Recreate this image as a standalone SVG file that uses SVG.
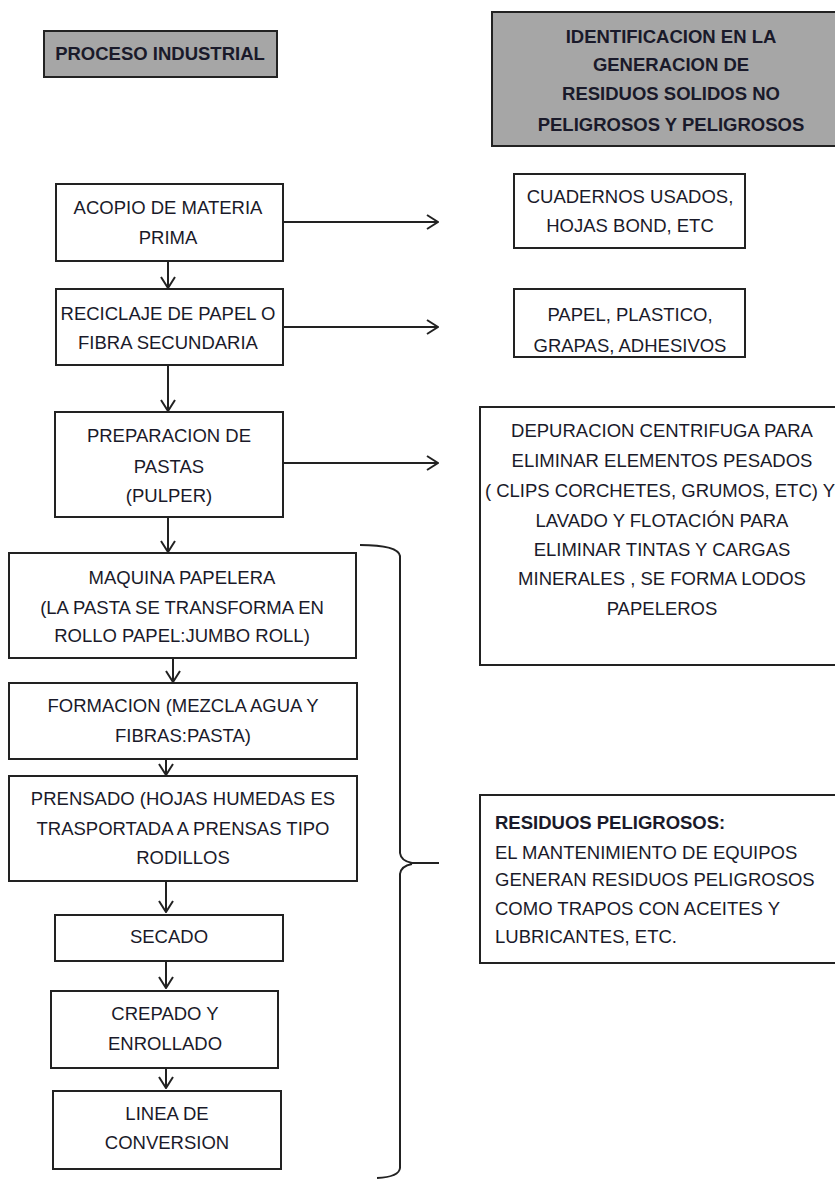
<svg xmlns="http://www.w3.org/2000/svg" width="835" height="1180" viewBox="0 0 835 1180">
<style>
  .box { fill: #ffffff; stroke: #222222; stroke-width: 2; }
  .hdr { fill: #a6a6a6; stroke: #222222; stroke-width: 2; }
  text { font-family: "Liberation Sans", Arial, sans-serif; font-size: 18.5px; fill: #1a1a2a; }
  .c { text-anchor: middle; }
  .b { font-weight: bold; font-size: 18.5px; }
  .conn { stroke: #222222; stroke-width: 2; fill: none; }
</style>
<defs>
  <marker id="arr" viewBox="0 0 14 16" refX="13" refY="8" markerWidth="14" markerHeight="16" markerUnits="userSpaceOnUse" orient="auto">
    <path d="M2,1 L13,8 L2,15" fill="none" stroke="#222222" stroke-width="2"/>
  </marker>
</defs>
<rect width="835" height="1180" fill="#ffffff"/>

<g id="hdr-proceso">
  <rect class="hdr" x="44" y="31" width="233" height="46"/>
  <text class="c b" x="160" y="60">PROCESO INDUSTRIAL</text>
</g>
<g id="hdr-identificacion">
  <rect class="hdr" x="492" y="12" width="360" height="134"/>
  <text class="c b" x="671" y="43">IDENTIFICACION EN LA</text>
  <text class="c b" x="671" y="71">GENERACION DE</text>
  <text class="c b" x="671" y="100">RESIDUOS SOLIDOS NO</text>
  <text class="c b" x="671" y="131">PELIGROSOS Y PELIGROSOS</text>
</g>

<g id="acopio">
  <rect class="box" x="56" y="184" width="227" height="77"/>
  <text class="c" x="168" y="214">ACOPIO DE MATERIA</text>
  <text class="c" x="168" y="244">PRIMA</text>
</g>
<g id="reciclaje">
  <rect class="box" x="56" y="289" width="227" height="76"/>
  <text class="c" x="168" y="320">RECICLAJE DE PAPEL O</text>
  <text class="c" x="168" y="349">FIBRA SECUNDARIA</text>
</g>
<g id="preparacion">
  <rect class="box" x="55" y="412" width="228" height="105"/>
  <text class="c" x="169" y="442">PREPARACION DE</text>
  <text class="c" x="169" y="473">PASTAS</text>
  <text class="c" x="169" y="502">(PULPER)</text>
</g>
<g id="maquina">
  <rect class="box" x="9" y="553" width="347" height="105"/>
  <text class="c" x="182" y="584">MAQUINA PAPELERA</text>
  <text class="c" x="182" y="614">(LA PASTA SE TRANSFORMA EN</text>
  <text class="c" x="182" y="642">ROLLO PAPEL:JUMBO ROLL)</text>
</g>
<g id="formacion">
  <rect class="box" x="9" y="683" width="348" height="76"/>
  <text class="c" x="183" y="712">FORMACION (MEZCLA AGUA Y</text>
  <text class="c" x="183" y="742">FIBRAS:PASTA)</text>
</g>
<g id="prensado">
  <rect class="box" x="9" y="776" width="348" height="105"/>
  <text class="c" x="183" y="805">PRENSADO (HOJAS HUMEDAS ES</text>
  <text class="c" x="183" y="835">TRASPORTADA A PRENSAS TIPO</text>
  <text class="c" x="183" y="864">RODILLOS</text>
</g>
<g id="secado">
  <rect class="box" x="55" y="915" width="228" height="46"/>
  <text class="c" x="169" y="943">SECADO</text>
</g>
<g id="crepado">
  <rect class="box" x="51" y="991" width="227" height="77"/>
  <text class="c" x="165" y="1020">CREPADO Y</text>
  <text class="c" x="165" y="1050">ENROLLADO</text>
</g>
<g id="linea">
  <rect class="box" x="53" y="1091" width="228" height="78"/>
  <text class="c" x="167" y="1120">LINEA DE</text>
  <text class="c" x="167" y="1149">CONVERSION</text>
</g>

<g id="cuadernos">
  <rect class="box" x="514" y="174" width="231" height="74"/>
  <text class="c" x="630" y="203">CUADERNOS USADOS,</text>
  <text class="c" x="630" y="232">HOJAS BOND, ETC</text>
</g>
<g id="papel">
  <rect class="box" x="514" y="289" width="231" height="68"/>
  <text class="c" x="630" y="321">PAPEL, PLASTICO,</text>
  <text class="c" x="630" y="352">GRAPAS, ADHESIVOS</text>
</g>
<g id="depuracion">
  <rect class="box" x="480" y="407" width="372" height="258"/>
  <text class="c" x="662" y="437">DEPURACION CENTRIFUGA PARA</text>
  <text class="c" x="662" y="467">ELIMINAR ELEMENTOS PESADOS</text>
  <text class="c" x="660" y="497">( CLIPS CORCHETES, GRUMOS, ETC) Y</text>
  <text class="c" x="662" y="527">LAVADO Y FLOTACIÓN PARA</text>
  <text class="c" x="662" y="556">ELIMINAR TINTAS Y CARGAS</text>
  <text class="c" x="662" y="585">MINERALES , SE FORMA LODOS</text>
  <text class="c" x="662" y="615">PAPELEROS</text>
</g>
<g id="peligrosos">
  <rect class="box" x="480" y="795" width="372" height="168"/>
  <text class="b" x="495" y="829">RESIDUOS PELIGROSOS:</text>
  <text x="495" y="859">EL MANTENIMIENTO DE EQUIPOS</text>
  <text x="495" y="886">GENERAN RESIDUOS PELIGROSOS</text>
  <text x="495" y="915">COMO TRAPOS CON ACEITES Y</text>
  <text x="495" y="943">LUBRICANTES, ETC.</text>
</g>

<g id="connectors" class="conn">
  <line x1="168" y1="261" x2="168" y2="288" marker-end="url(#arr)"/>
  <line x1="168" y1="365" x2="168" y2="411" marker-end="url(#arr)"/>
  <line x1="168" y1="517" x2="168" y2="552" marker-end="url(#arr)"/>
  <line x1="173" y1="658" x2="173" y2="682" marker-end="url(#arr)"/>
  <line x1="166" y1="759" x2="166" y2="775" marker-end="url(#arr)"/>
  <line x1="166" y1="881" x2="166" y2="912" marker-end="url(#arr)"/>
  <line x1="166" y1="961" x2="166" y2="988" marker-end="url(#arr)"/>
  <line x1="166" y1="1068" x2="166" y2="1088" marker-end="url(#arr)"/>
  <line x1="283" y1="222" x2="438" y2="222" marker-end="url(#arr)"/>
  <line x1="283" y1="327" x2="438" y2="327" marker-end="url(#arr)"/>
  <line x1="283" y1="463" x2="438" y2="463" marker-end="url(#arr)"/>
  <path d="M360,545 Q398,545 400,556 L400,853 Q401,861 412,863 L439,863 M412,864 Q401,866 400,874 L400,1168 Q399,1177 377,1178"/>
</g>
</svg>
